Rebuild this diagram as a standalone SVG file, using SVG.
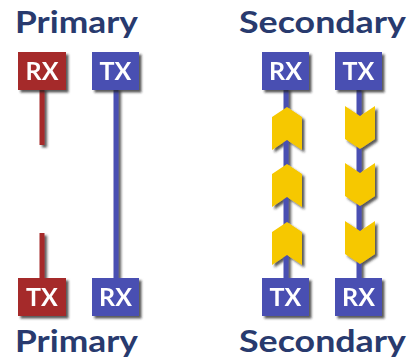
<svg xmlns="http://www.w3.org/2000/svg" width="412" height="364" viewBox="0 0 412 364">
<defs>
<filter id="sh" x="-30%" y="-30%" width="160%" height="160%">
<feDropShadow dx="2.5" dy="2.5" stdDeviation="1.2" flood-color="#222" flood-opacity="0.75"/>
</filter>
<path id="up" d="M0,0 L15,10 L15,43 L0,33 L-15,43 L-15,10 Z"/>
<path id="down" d="M-15,0 L0,10 L15,0 L15,33 L0,43 L-15,33 Z"/>
</defs>
<style>
.title{font-family:"Lato","Open Sans",sans-serif;font-weight:bold;font-size:31px;fill:#283a6e}
.lbl{font-family:"Lato","Open Sans",sans-serif;font-weight:bold;font-size:25px;fill:#fff;text-anchor:middle}
.red{fill:#a52a2c}
.blue{fill:#4a4fb2}
.redl{stroke:#a52a2c;stroke-width:5}
.bluel{stroke:#4a4fb2;stroke-width:5}
.chev{fill:#f6c800}
</style>
<rect width="412" height="364" fill="#fff"/>
<text class="title" x="15" y="33" textLength="123" lengthAdjust="spacingAndGlyphs">Primary</text>
<text class="title" x="15" y="352" textLength="123" lengthAdjust="spacingAndGlyphs">Primary</text>
<text class="title" x="239" y="33" textLength="167" lengthAdjust="spacingAndGlyphs">Secondary</text>
<text class="title" x="239" y="352" textLength="167" lengthAdjust="spacingAndGlyphs">Secondary</text>
<g id="connectors" filter="url(#sh)">
<line class="redl" x1="42" y1="88" x2="42" y2="145"/>
<line class="redl" x1="42" y1="233" x2="42" y2="279"/>
<line class="bluel" x1="116" y1="88" x2="116" y2="279"/>
<line class="bluel" x1="286" y1="88" x2="286" y2="279"/>
<line class="bluel" x1="359" y1="88" x2="359" y2="279"/>
<g class="chev">
<use href="#up" x="287" y="107"/>
<use href="#up" x="287" y="164"/>
<use href="#up" x="287" y="222"/>
<use href="#down" x="360" y="106"/>
<use href="#down" x="360" y="163"/>
<use href="#down" x="360" y="221"/>
</g>
</g>
<g id="p-rx" filter="url(#sh)"><rect class="red" x="18" y="52" width="48" height="38"/><text class="lbl" x="42" y="80">RX</text></g>
<g id="p-tx" filter="url(#sh)"><rect class="blue" x="92" y="52" width="47" height="38"/><text class="lbl" x="115.5" y="80">TX</text></g>
<g id="p-tx2" filter="url(#sh)"><rect class="red" x="18" y="278" width="48" height="38"/><text class="lbl" x="42" y="306">TX</text></g>
<g id="p-rx2" filter="url(#sh)"><rect class="blue" x="92" y="278" width="47" height="38"/><text class="lbl" x="115.5" y="306">RX</text></g>
<g id="s-rx" filter="url(#sh)"><rect class="blue" x="262" y="52" width="47" height="38"/><text class="lbl" x="285.5" y="80">RX</text></g>
<g id="s-tx" filter="url(#sh)"><rect class="blue" x="335" y="52" width="47" height="38"/><text class="lbl" x="358.5" y="80">TX</text></g>
<g id="s-tx2" filter="url(#sh)"><rect class="blue" x="262" y="278" width="47" height="38"/><text class="lbl" x="285.5" y="306">TX</text></g>
<g id="s-rx2" filter="url(#sh)"><rect class="blue" x="335" y="278" width="47" height="38"/><text class="lbl" x="358.5" y="306">RX</text></g>
</svg>
